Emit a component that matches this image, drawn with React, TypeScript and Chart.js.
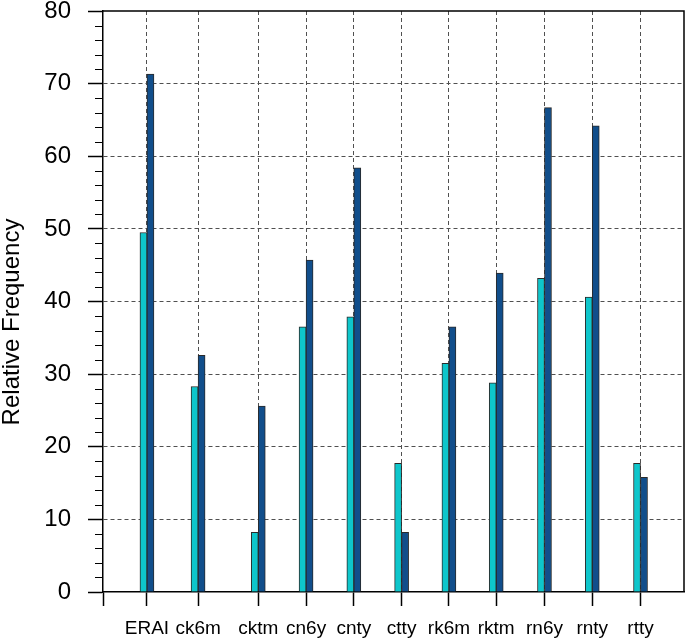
import { useEffect, useRef } from 'react';
import { Chart, registerables } from 'chart.js';

Chart.register(...registerables);

// ---- data ----
const categories = ['ERAI', 'ck6m', 'cktm', 'cn6y', 'cnty', 'ctty', 'rk6m', 'rktm', 'rn6y', 'rnty', 'rtty'];
const categoryPositions = [0.92, 1.99, 3.25, 4.25, 5.25, 6.25, 7.24, 8.23, 9.24, 10.24, 11.25];
const xAxisMin = 0;
const xAxisMax = 12.16;
const cyanValues = [49.5, 28.3, 8.2, 36.5, 37.9, 17.7, 31.5, 28.8, 43.2, 40.6, 17.7];
const blueValues = [71.3, 32.6, 25.6, 45.7, 58.4, 8.2, 36.5, 43.9, 66.7, 64.2, 15.8];
const yMin = 0;
const yMax = 80;
const yMajorStep = 10;
const yMinorStep = 2;
const yTitle = 'Relative Frequency';

const FONT = '"Liberation Sans", Arial, Helvetica, sans-serif';
const CYAN = '#0ec6cb';
const BLUE = '#114e8b';
const EDGE = '#2a2a2a';
const GRID = '#505050';

export default function App() {
  const ref = useRef<HTMLCanvasElement>(null);

  useEffect(() => {
    document.body.style.margin = '0';
    const canvas = ref.current;
    if (!canvas) return;

    const framePlugin = {
      id: 'frameAndMinor',
      afterDraw(chart: any) {
        const { ctx, chartArea } = chart;
        const ys = chart.scales.y;
        ctx.save();
        ctx.strokeStyle = '#000';
        ctx.lineWidth = 1.5;
        ctx.beginPath();
        ctx.moveTo(chartArea.left, chartArea.top);
        ctx.lineTo(chartArea.right, chartArea.top);
        ctx.lineTo(chartArea.right, chartArea.bottom);
        ctx.stroke();
        // minor ticks on y axis
        ctx.lineWidth = 1.2;
        ctx.beginPath();
        for (let v = yMin; v <= yMax; v += yMinorStep) {
          if (v % yMajorStep === 0) continue;
          const py = Math.round(ys.getPixelForValue(v)) + 0.5;
          ctx.moveTo(chartArea.left - 8, py);
          ctx.lineTo(chartArea.left, py);
        }
        ctx.stroke();
        // y axis title
        ctx.fillStyle = '#000';
        ctx.font = `24px ${FONT}`;
        ctx.textAlign = 'center';
        ctx.textBaseline = 'alphabetic';
        ctx.translate(19, 322);
        ctx.rotate(-Math.PI / 2);
        ctx.fillText(yTitle, 0, 0);
        ctx.restore();
      },
    };

    const chart = new Chart(canvas, {
      type: 'bar',
      data: {
        datasets: [
          {
            data: categoryPositions.map((x, i) => ({ x, y: cyanValues[i] })),
            backgroundColor: CYAN,
            borderColor: EDGE,
            borderWidth: 1,
            borderSkipped: 'start',
          },
          {
            data: categoryPositions.map((x, i) => ({ x, y: blueValues[i] })),
            backgroundColor: BLUE,
            borderColor: EDGE,
            borderWidth: 1,
            borderSkipped: 'start',
          },
        ],
      },
      options: {
        responsive: false,
        animation: false,
        layout: { padding: { top: 11, right: 1, left: 0, bottom: 0 } },
        plugins: { legend: { display: false }, tooltip: { enabled: false } },
        datasets: { bar: { barThickness: 7, grouped: true } },
        scales: {
          x: {
            type: 'linear',
            min: xAxisMin,
            max: xAxisMax,
            offset: false,
            afterBuildTicks: (s: any) => {
              s.ticks = [xAxisMin, ...categoryPositions].map((v) => ({ value: v }));
            },
            afterFit: (s: any) => {
              s.height = 46;
              s.paddingLeft = 0;
              s.paddingRight = 0;
            },
            ticks: {
              autoSkip: false,
              maxRotation: 0,
              minRotation: 0,
              color: '#000',
              padding: 11,
              font: { family: FONT, size: 19 },
              callback: (_v: any, i: number) => (i === 0 ? '' : categories[i - 1]),
            },
            grid: {
              offset: false,
              color: (c: any) => (c.tick && c.tick.value === xAxisMin ? 'rgba(0,0,0,0)' : GRID),
              lineWidth: 1,
              tickColor: '#000',
              tickLength: 14,
              tickWidth: 1.5,
            },
            border: { color: '#000', width: 1.5, dash: [4, 3] },
          },
          y: {
            min: yMin,
            max: yMax,
            afterFit: (s: any) => {
              s.width = 103;
              s.paddingTop = 0;
              s.paddingBottom = 0;
            },
            ticks: {
              stepSize: yMajorStep,
              color: '#000',
              padding: 17,
              font: { family: FONT, size: 24 },
            },
            grid: {
              color: (c: any) =>
                c.tick && (c.tick.value === yMin || c.tick.value === yMax) ? 'rgba(0,0,0,0)' : GRID,
              lineWidth: 1,
              tickColor: '#000',
              tickLength: 15,
              tickWidth: 1.5,
            },
            border: { color: '#000', width: 1.5, dash: [4, 3] },
          },
        },
      },
      plugins: [framePlugin],
    } as any);

    return () => chart.destroy();
  }, []);

  return (
    <div style={{ width: 685, height: 638 }}>
      <canvas ref={ref} width={685} height={638} style={{ display: 'block', width: 685, height: 638 }} />
    </div>
  );
}
